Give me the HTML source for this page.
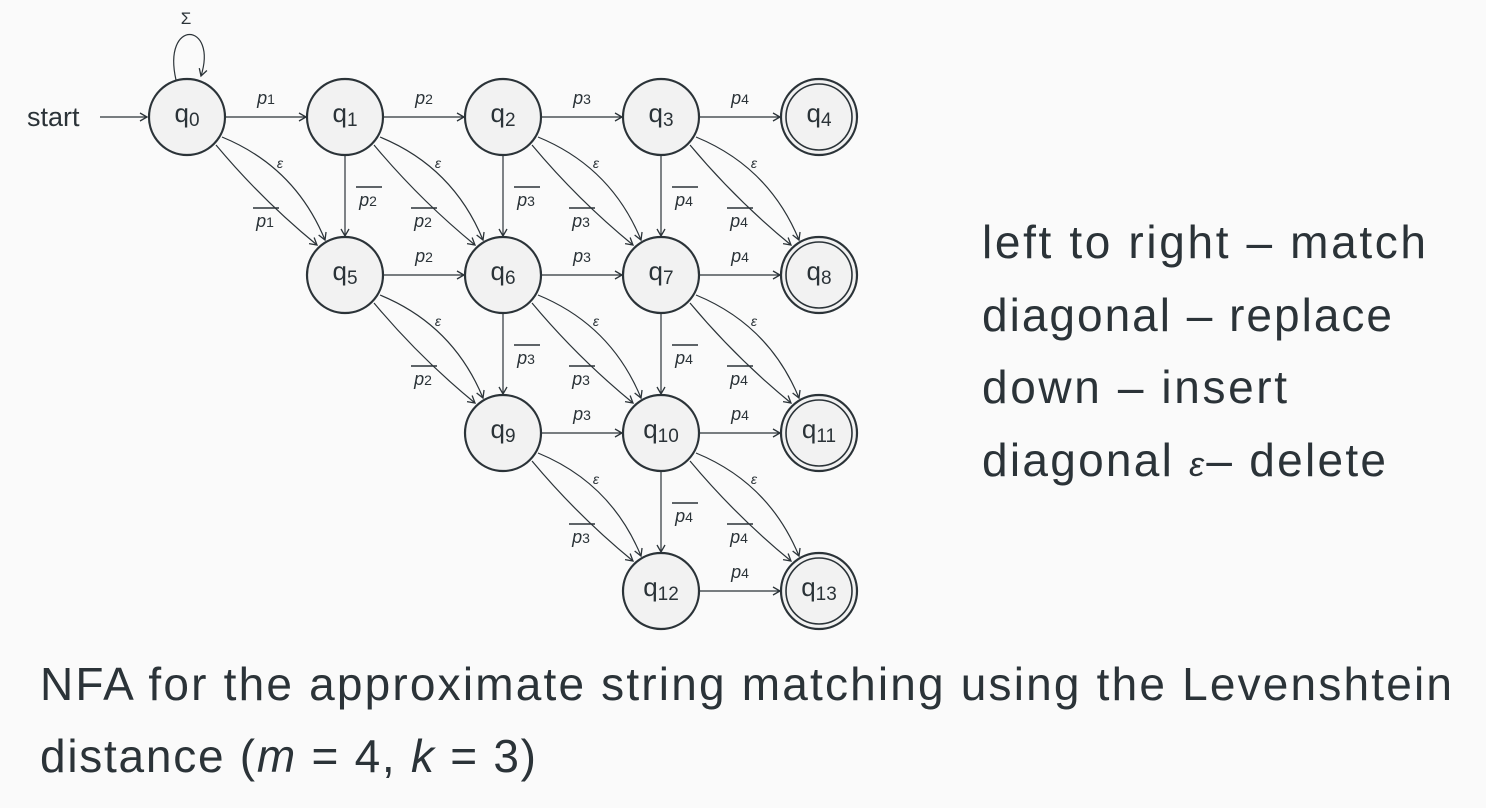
<!DOCTYPE html>
<html><head><meta charset="utf-8"><style>
html,body{margin:0;padding:0;background:#fafafa;}
svg{display:block;}
text{font-family:"Liberation Sans",sans-serif;fill:#2b3338;}
.n{font-size:26px;}
.s{font-size:19px;}
.l{font-size:18px;font-style:italic;}
.l tspan{font-size:14px;font-style:normal;}
.e{font-size:14px;font-style:italic;}
.big{font-size:46px;fill:#343c42;}
</style></head><body>
<svg width="1486" height="808" viewBox="0 0 1486 808" xmlns="http://www.w3.org/2000/svg">
<defs><marker id="a" markerWidth="10" markerHeight="10" refX="8" refY="5" orient="auto" markerUnits="userSpaceOnUse"><path d="M1,1 L8,5 L1,9" fill="none" stroke="#2b3338" stroke-width="1.3"/></marker></defs>
<g fill="none" stroke="#2b3338" stroke-width="1.2" marker-end="url(#a)">
<path d="M176 80 C162 18,218 22,201 76"/>
<line x1="100" y1="117" x2="147" y2="117"/>
<line x1="225" y1="117" x2="306" y2="117"/><line x1="383" y1="117" x2="464" y2="117"/><line x1="541" y1="117" x2="622" y2="117"/><line x1="699" y1="117" x2="780" y2="117"/>
<line x1="383" y1="275" x2="464" y2="275"/><line x1="541" y1="275" x2="622" y2="275"/><line x1="699" y1="275" x2="780" y2="275"/>
<line x1="541" y1="433" x2="622" y2="433"/><line x1="699" y1="433" x2="780" y2="433"/>
<line x1="699" y1="591" x2="780" y2="591"/>
<line x1="345" y1="155" x2="345" y2="236"/><line x1="503" y1="155" x2="503" y2="236"/><line x1="503" y1="313" x2="503" y2="394"/>
<line x1="661" y1="155" x2="661" y2="236"/><line x1="661" y1="313" x2="661" y2="394"/><line x1="661" y1="471" x2="661" y2="552"/>
<path d="M222 137 Q295 167 325 240"/><path d="M216 145 Q262 200 317 245"/>
<path d="M380 137 Q453 167 483 240"/><path d="M374 145 Q420 200 475 245"/>
<path d="M538 137 Q611 167 641 240"/><path d="M532 145 Q578 200 633 245"/>
<path d="M696 137 Q769 167 799 240"/><path d="M690 145 Q736 200 791 245"/>
<path d="M380 295 Q453 325 483 398"/><path d="M374 303 Q420 358 475 403"/>
<path d="M538 295 Q611 325 641 398"/><path d="M532 303 Q578 358 633 403"/>
<path d="M696 295 Q769 325 799 398"/><path d="M690 303 Q736 358 791 403"/>
<path d="M538 453 Q611 483 641 556"/><path d="M532 461 Q578 516 633 561"/>
<path d="M696 453 Q769 483 799 556"/><path d="M690 461 Q736 516 791 561"/>
</g>
<g fill="#f2f2f2" stroke="#2b3338" stroke-width="2.2">
<circle cx="187" cy="117" r="38"/><circle cx="345" cy="117" r="38"/><circle cx="503" cy="117" r="38"/><circle cx="661" cy="117" r="38"/><circle cx="819" cy="117" r="38"/>
<circle cx="345" cy="275" r="38"/><circle cx="503" cy="275" r="38"/><circle cx="661" cy="275" r="38"/><circle cx="819" cy="275" r="38"/>
<circle cx="503" cy="433" r="38"/><circle cx="661" cy="433" r="38"/><circle cx="819" cy="433" r="38"/>
<circle cx="661" cy="591" r="38"/><circle cx="819" cy="591" r="38"/>
</g>
<g fill="none" stroke="#2b3338" stroke-width="1.6">
<circle cx="819" cy="117" r="33"/><circle cx="819" cy="275" r="33"/><circle cx="819" cy="433" r="33"/><circle cx="819" cy="591" r="33"/>
</g>
<g class="n" text-anchor="middle">
<text x="187" y="122">q<tspan class="s" dy="4">0</tspan></text>
<text x="345" y="122">q<tspan class="s" dy="4">1</tspan></text>
<text x="503" y="122">q<tspan class="s" dy="4">2</tspan></text>
<text x="661" y="122">q<tspan class="s" dy="4">3</tspan></text>
<text x="819" y="122">q<tspan class="s" dy="4">4</tspan></text>
<text x="345" y="280">q<tspan class="s" dy="4">5</tspan></text>
<text x="503" y="280">q<tspan class="s" dy="4">6</tspan></text>
<text x="661" y="280">q<tspan class="s" dy="4">7</tspan></text>
<text x="819" y="280">q<tspan class="s" dy="4">8</tspan></text>
<text x="503" y="438">q<tspan class="s" dy="4">9</tspan></text>
<text x="661" y="438">q<tspan class="s" dy="4">10</tspan></text>
<text x="819" y="438">q<tspan class="s" dy="4">11</tspan></text>
<text x="661" y="596">q<tspan class="s" dy="4">12</tspan></text>
<text x="819" y="596">q<tspan class="s" dy="4">13</tspan></text>
</g>
<text x="186" y="24" text-anchor="middle" style="font-size:17px">Σ</text>
<text x="27" y="126" style="font-size:27px">start</text>
<g class="l" text-anchor="middle">
<text x="266" y="104">p<tspan>1</tspan></text>
<text x="424" y="104">p<tspan>2</tspan></text>
<text x="582" y="104">p<tspan>3</tspan></text>
<text x="740" y="104">p<tspan>4</tspan></text>
<text x="424" y="262">p<tspan>2</tspan></text>
<text x="582" y="262">p<tspan>3</tspan></text>
<text x="740" y="262">p<tspan>4</tspan></text>
<text x="582" y="420">p<tspan>3</tspan></text>
<text x="740" y="420">p<tspan>4</tspan></text>
<text x="740" y="578">p<tspan>4</tspan></text>
<text x="368" y="206">p<tspan>2</tspan></text>
<text x="526" y="206">p<tspan>3</tspan></text>
<text x="526" y="364">p<tspan>3</tspan></text>
<text x="684" y="206">p<tspan>4</tspan></text>
<text x="684" y="364">p<tspan>4</tspan></text>
<text x="684" y="522">p<tspan>4</tspan></text>
<text x="265" y="227">p<tspan>1</tspan></text>
<text x="423" y="227">p<tspan>2</tspan></text>
<text x="581" y="227">p<tspan>3</tspan></text>
<text x="739" y="227">p<tspan>4</tspan></text>
<text x="423" y="385">p<tspan>2</tspan></text>
<text x="581" y="385">p<tspan>3</tspan></text>
<text x="739" y="385">p<tspan>4</tspan></text>
<text x="581" y="543">p<tspan>3</tspan></text>
<text x="739" y="543">p<tspan>4</tspan></text>
</g>
<g stroke="#2b3338" stroke-width="1.6">
<line x1="356" y1="187" x2="382" y2="187"/><line x1="514" y1="187" x2="540" y2="187"/><line x1="514" y1="345" x2="540" y2="345"/>
<line x1="672" y1="187" x2="698" y2="187"/><line x1="672" y1="345" x2="698" y2="345"/><line x1="672" y1="503" x2="698" y2="503"/>
<line x1="253" y1="208" x2="279" y2="208"/><line x1="411" y1="208" x2="437" y2="208"/><line x1="569" y1="208" x2="595" y2="208"/><line x1="727" y1="208" x2="753" y2="208"/>
<line x1="411" y1="366" x2="437" y2="366"/><line x1="569" y1="366" x2="595" y2="366"/><line x1="727" y1="366" x2="753" y2="366"/>
<line x1="569" y1="524" x2="595" y2="524"/><line x1="727" y1="524" x2="753" y2="524"/>
</g>
<g class="e" text-anchor="middle">
<text x="280" y="168">ε</text><text x="438" y="168">ε</text><text x="596" y="168">ε</text><text x="754" y="168">ε</text>
<text x="438" y="326">ε</text><text x="596" y="326">ε</text><text x="754" y="326">ε</text>
<text x="596" y="484">ε</text><text x="754" y="484">ε</text>
</g>
<g class="big">
<text x="982" y="258" textLength="444">left to right – match</text>
<text x="982" y="331" textLength="410">diagonal – replace</text>
<text x="982" y="403" textLength="305">down – insert</text>
<text x="982" y="476" textLength="404">diagonal <tspan style="font-style:italic;font-size:34px">ε</tspan>– delete</text>
<text x="40" y="700" textLength="1412">NFA for the approximate string matching using the Levenshtein</text>
<text x="40" y="772" textLength="496">distance (<tspan font-style="italic">m</tspan> = 4, <tspan font-style="italic">k</tspan> = 3)</text>
</g>
</svg>
</body></html>
